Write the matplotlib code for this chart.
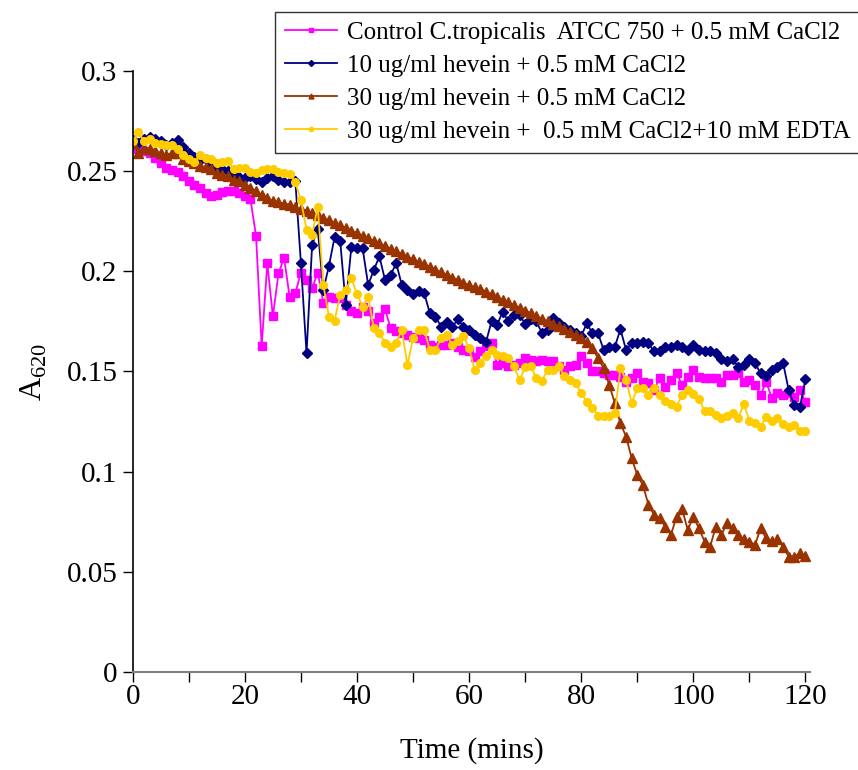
import matplotlib
matplotlib.use("Agg")
import matplotlib.pyplot as plt
import numpy as np

plt.rcParams['font.family'] = ['Liberation Serif', 'DejaVu Serif']
plt.rcParams['mathtext.fontset'] = 'custom'
plt.rcParams['mathtext.rm'] = 'Liberation Serif'

#--------------------------------------------------------------------
# datos (lectura aproximada de la figura, un punto por minuto)

time_min = np.arange(0, 121)

control = [0.262, 0.261, 0.260, 0.259, 0.2567, 0.254, 0.2517, 0.2508, 0.2495, 0.2475,
           0.245, 0.2433, 0.2417, 0.239, 0.2375, 0.2383, 0.2397, 0.240, 0.240, 0.239,
           0.2375, 0.236, 0.2175, 0.1626, 0.204, 0.1776, 0.199, 0.2067, 0.187, 0.189,
           0.1994, 0.1957, 0.1916, 0.1994, 0.1844, 0.1874, 0.1866, 0.1866, 0.1830, 0.1804,
           0.1794, 0.1824, 0.1804, 0.174, 0.1774, 0.181, 0.1716, 0.170, 0.1691, 0.1682,
           0.1674, 0.1666, 0.1657, 0.1633, 0.1624, 0.1633, 0.1633, 0.164, 0.1624, 0.1607,
           0.1600, 0.1574, 0.1600, 0.1628, 0.1641, 0.1533, 0.1541, 0.1525, 0.1533, 0.1541,
           0.1566, 0.1555, 0.155, 0.1558, 0.155, 0.155, 0.1525, 0.1508, 0.1525, 0.1533,
           0.1575, 0.1541, 0.150, 0.150, 0.1491, 0.1483, 0.1483, 0.1474, 0.1449, 0.1466,
           0.1491, 0.1449, 0.1441, 0.1408, 0.1466, 0.1424, 0.1458, 0.1491, 0.1433, 0.1474,
           0.1508, 0.1474, 0.1466, 0.1466, 0.1466, 0.1449, 0.1483, 0.1483, 0.1491, 0.1449,
           0.1458, 0.1433, 0.1383, 0.1449, 0.1366, 0.1391, 0.1383, 0.1391, 0.1374, 0.1408,
           0.1349]

hev10 = [0.2655, 0.264, 0.266, 0.267, 0.266, 0.265, 0.263, 0.264, 0.2655, 0.262,
         0.259, 0.257, 0.2555, 0.256, 0.254, 0.252, 0.251, 0.250, 0.248, 0.247,
         0.2465, 0.2475, 0.246, 0.2445, 0.2468, 0.2478, 0.2458, 0.2448, 0.2445, 0.2452,
         0.204, 0.159, 0.2132, 0.221, 0.1907, 0.2027, 0.217, 0.2153, 0.1832, 0.2123,
         0.2115, 0.2115, 0.1932, 0.2007, 0.2074, 0.1957, 0.1982, 0.204, 0.1932, 0.1907,
         0.1887, 0.190, 0.1891, 0.179, 0.1774, 0.1724, 0.1749, 0.1724, 0.176, 0.1724,
         0.1707, 0.1682, 0.1666, 0.1645, 0.175, 0.1733, 0.1799, 0.175, 0.1783, 0.1783,
         0.1738, 0.1760, 0.1750, 0.1691, 0.1708, 0.1766, 0.1741, 0.1724, 0.1708, 0.1690,
         0.1678, 0.1740, 0.1691, 0.1691, 0.1607, 0.1624, 0.1624, 0.1711, 0.1607, 0.1641,
         0.1644, 0.1649, 0.1641, 0.1600, 0.1600, 0.1624, 0.1624, 0.1632, 0.1624, 0.1607,
         0.1632, 0.1607, 0.1600, 0.1600, 0.1591, 0.1561, 0.1550, 0.1561, 0.1524, 0.1533,
         0.1561, 0.1541, 0.1491, 0.1478, 0.1508, 0.1524, 0.1544, 0.1408, 0.1333, 0.1321,
         0.1461]

hev30 = [0.264, 0.259, 0.2617, 0.261, 0.260, 0.259, 0.258, 0.259, 0.259, 0.256,
         0.255, 0.254, 0.2525, 0.252, 0.251, 0.249, 0.2483, 0.2475, 0.2458, 0.245,
         0.2433, 0.2417, 0.240, 0.2383, 0.2367, 0.235, 0.2345, 0.2338, 0.2333, 0.232,
         0.231, 0.2302, 0.2292, 0.228, 0.2268, 0.2255, 0.2243, 0.2229, 0.2217, 0.2203,
         0.2191, 0.2177, 0.2165, 0.2151, 0.2139, 0.2125, 0.2113, 0.2099, 0.2087, 0.2073,
         0.2061, 0.2047, 0.2035, 0.2021, 0.2009, 0.1995, 0.1983, 0.1969, 0.1957, 0.1943,
         0.1931, 0.1920, 0.1912, 0.1899, 0.1886, 0.1872, 0.1858, 0.1845, 0.1830, 0.1818,
         0.1804, 0.1790, 0.1777, 0.1764, 0.1750, 0.1737, 0.1725, 0.1712, 0.1697, 0.1684,
         0.1668, 0.1649, 0.1615, 0.1566, 0.1516, 0.1433, 0.1341, 0.1241, 0.1175, 0.1067,
         0.0983, 0.0933, 0.0834, 0.0784, 0.0767, 0.0725, 0.0684, 0.0775, 0.0812, 0.0709,
         0.0775, 0.0717, 0.0651, 0.0626, 0.0725, 0.0684, 0.0742, 0.0717, 0.0684, 0.0662,
         0.0651, 0.0634, 0.0717, 0.0667, 0.0656, 0.0662, 0.0626, 0.0576, 0.0576, 0.0592,
         0.0579]

hev30_edta = [0.265, 0.2695, 0.265, 0.266, 0.264, 0.2638, 0.263, 0.263, 0.261, 0.258,
              0.256, 0.2545, 0.258, 0.2567, 0.256, 0.254, 0.2545, 0.255, 0.251, 0.2517,
              0.2517, 0.2495, 0.249, 0.2505, 0.251, 0.251, 0.2495, 0.249, 0.2487, 0.2445,
              0.2356, 0.2207, 0.2182, 0.2323, 0.1932, 0.1774, 0.1754, 0.1882, 0.1907, 0.1965,
              0.1887, 0.1824, 0.1874, 0.1716, 0.1691, 0.1644, 0.1624, 0.1644, 0.1707, 0.1533,
              0.1666, 0.1707, 0.1707, 0.1607, 0.1607, 0.1666, 0.1683, 0.1633, 0.165, 0.1675,
              0.1616, 0.1508, 0.1541, 0.1575, 0.1608, 0.1583, 0.1575, 0.1566, 0.1525, 0.1458,
              0.1521, 0.1525, 0.1466, 0.1455, 0.1508, 0.1508, 0.1525, 0.1478, 0.1458, 0.1441,
              0.1391, 0.135, 0.1320, 0.1280, 0.1278, 0.1280, 0.1295, 0.1516, 0.1458, 0.1345,
              0.1416, 0.1416, 0.1383, 0.1416, 0.1383, 0.1354, 0.1338, 0.1325, 0.1383, 0.1408,
              0.1388, 0.1361, 0.1305, 0.1305, 0.1283, 0.1266, 0.1278, 0.1295, 0.1266, 0.1338,
              0.1255, 0.1241, 0.1225, 0.1275, 0.1255, 0.1266, 0.1238, 0.1225, 0.1233, 0.1205,
              0.1205]

labels = ['Control C.tropicalis  ATCC 750 + 0.5 mM CaCl2',
          '10 ug/ml hevein + 0.5 mM CaCl2',
          '30 ug/ml hevein + 0.5 mM CaCl2',
          '30 ug/ml hevein +  0.5 mM CaCl2+10 mM EDTA']

x_ticks = [0, 20, 40, 60, 80, 100, 120]
y_ticks = [0, 0.05, 0.1, 0.15, 0.2, 0.25, 0.3]

#--------------------------------------------------------------------

fig = plt.figure(figsize=(8.58, 7.7), dpi=100)
ax = fig.add_axes([0.1547, 0.1273, 0.7893, 0.7805])

ax.plot(time_min, control, color='#FF00FF', marker='s', ms=5.5, lw=1.3, label=labels[0])
ax.plot(time_min, hev10, color='#000080', marker='D', ms=5.5, lw=1.3, label=labels[1])
ax.plot(time_min, hev30, color='#993300', marker='^', ms=6.5, lw=1.3, label=labels[2])
ax.plot(time_min, hev30_edta, color='#FFCC00', marker='o', ms=5.5, lw=1.3, label=labels[3])

ax.set_xlim(0, 120.8)
ax.set_ylim(0, 0.3)

ax.set_xticks(x_ticks)
ax.set_xticks(np.arange(0, 121, 10), minor=True)
ax.set_yticks(y_ticks)
ax.set_yticklabels(['%g' % t for t in y_ticks])

ax.tick_params(axis='both', which='both', direction='out', labelsize=21, width=1)
ax.tick_params(axis='x', which='both', length=7, pad=1.5)
ax.tick_params(axis='y', length=7, pad=4)

ax.spines['top'].set_visible(False)
ax.spines['right'].set_visible(False)
ax.spines['bottom'].set_color('#808080')
ax.spines['bottom'].set_linewidth(1.5)
ax.spines['left'].set_linewidth(1.2)

ax.set_xlabel('Time (mins)', fontsize=21)
ax.set_ylabel(r'A$_{\mathrm{620}}$', fontsize=23)
ax.xaxis.set_label_coords(0.5, -0.108)
ax.yaxis.set_label_coords(-0.123, 0.5)

# leyenda arriba a la derecha, fuera del area de datos
leg = fig.legend(loc='upper left', bbox_to_anchor=(0.32, 0.985), fontsize=18,
                 frameon=True, fancybox=False, shadow=False, markerscale=0.55,
                 handlelength=2.1, labelspacing=0.42, borderpad=0.4, handletextpad=0.4,
                 borderaxespad=0)
leg.get_frame().set_edgecolor('black')
leg.get_frame().set_linewidth(1.0)

plt.savefig('out.png', dpi=100)
